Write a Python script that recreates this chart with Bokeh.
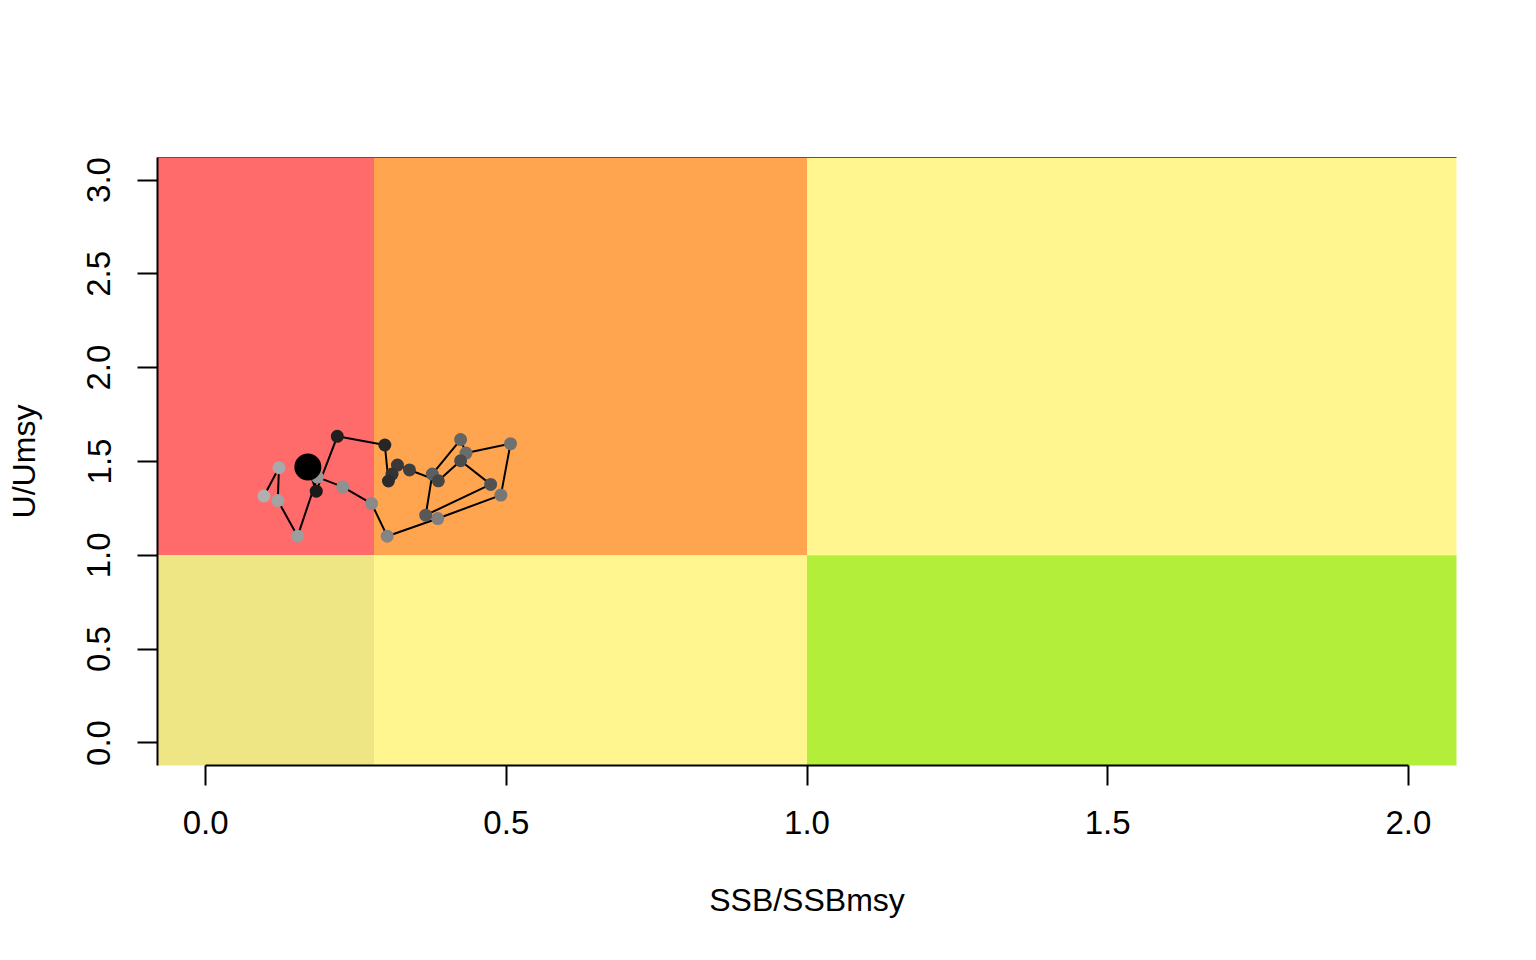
from bokeh.plotting import figure
from bokeh.models import Range1d, LinearAxis, FixedTicker, PrintfTickFormatter, ColumnDataSource
from bokeh.embed import file_html
from bokeh.resources import INLINE
import numpy as np

# kobe plot thresholds
ssb_lim = 0.28
ssb_msy = 1.0
u_msy = 1.0

# trajectory, oldest first; last point is the current year
ssb = [0.097, 0.122, 0.120, 0.153, 0.186, 0.228, 0.276, 0.302, 0.386, 0.491,
       0.507, 0.433, 0.424, 0.377, 0.366, 0.474, 0.424, 0.387, 0.339, 0.319,
       0.310, 0.304, 0.298, 0.219, 0.184, 0.170]
u = [1.316, 1.467, 1.292, 1.102, 1.417, 1.365, 1.276, 1.102, 1.196, 1.321,
     1.595, 1.545, 1.617, 1.433, 1.214, 1.378, 1.504, 1.397, 1.455, 1.481,
     1.433, 1.396, 1.588, 1.634, 1.342, 1.471]

x_ticks = [0.0, 0.5, 1.0, 1.5, 2.0]
y_ticks = [0.0, 0.5, 1.0, 1.5, 2.0, 2.5, 3.0]

FONT = "Liberation Sans"

p = figure(width=1520, height=944, x_range=Range1d(-0.08, 2.08), y_range=Range1d(-0.12, 3.12),
           output_backend="svg", toolbar_location=None,
           min_border_left=157, min_border_right=64, min_border_top=157, min_border_bottom=179)
p.grid.visible = False
p.outline_line_color = None
p.background_fill_color = "white"

# zones
lo, hi = -10, 10
p.quad(left=[lo], right=[ssb_lim], bottom=[u_msy], top=[hi], fill_color="#FF6A6A", line_color=None)
p.quad(left=[ssb_lim], right=[ssb_msy], bottom=[u_msy], top=[hi], fill_color="#FFA54F", line_color=None)
p.quad(left=[ssb_msy], right=[hi], bottom=[u_msy], top=[hi], fill_color="#FFF68F", line_color=None)
p.quad(left=[lo], right=[ssb_lim], bottom=[lo], top=[u_msy], fill_color="#EEE685", line_color=None)
p.quad(left=[ssb_lim], right=[ssb_msy], bottom=[lo], top=[u_msy], fill_color="#FFF68F", line_color=None)
p.quad(left=[ssb_msy], right=[hi], bottom=[lo], top=[u_msy], fill_color="#B3EE3A", line_color=None)

n = len(ssb)
grays = ["#%02x%02x%02x" % (g, g, g) for g in np.linspace(176, 20, n).astype(int)]
src = ColumnDataSource(dict(x=ssb, y=u, c=grays))

p.line("x", "y", source=src, line_color="black", line_width=2)
p.scatter("x", "y", source=src, size=13, fill_color="c", line_color=None)
p.scatter(ssb[-1:], u[-1:], size=27, fill_color="black", line_color=None)

for ax in (p.xaxis[0], p.yaxis[0]):
    ax.major_tick_in = 0
    ax.major_tick_out = 20
    ax.minor_tick_line_color = None
    ax.major_tick_line_width = 2
    ax.axis_line_width = 2
    ax.major_label_text_font = FONT
    ax.major_label_text_font_size = "33px"
    ax.major_label_text_color = "black"
    ax.axis_label_text_font = FONT
    ax.axis_label_text_font_size = "32px"
    ax.axis_label_text_font_style = "normal"
    ax.axis_label_text_color = "black"
    ax.formatter = PrintfTickFormatter(format="%.1f")

p.xaxis.ticker = FixedTicker(ticks=x_ticks)
p.yaxis.ticker = FixedTicker(ticks=y_ticks)
p.xaxis.bounds = (0, 2)
p.xaxis.axis_label = "SSB/SSBmsy"
p.yaxis.axis_label = "U/Umsy"
p.xaxis.major_label_standoff = 25
p.xaxis.axis_label_standoff = 45
p.yaxis.major_label_standoff = 27
p.yaxis.axis_label_standoff = 43
p.yaxis.major_label_orientation = "vertical"

top = LinearAxis(ticker=FixedTicker(ticks=[]), axis_line_color="#555555", axis_line_width=1,
                 major_label_text_font_size="0px", major_tick_line_color=None,
                 minor_tick_line_color=None)
p.add_layout(top, "above")

open("out.html", "w").write(file_html(p, INLINE))
